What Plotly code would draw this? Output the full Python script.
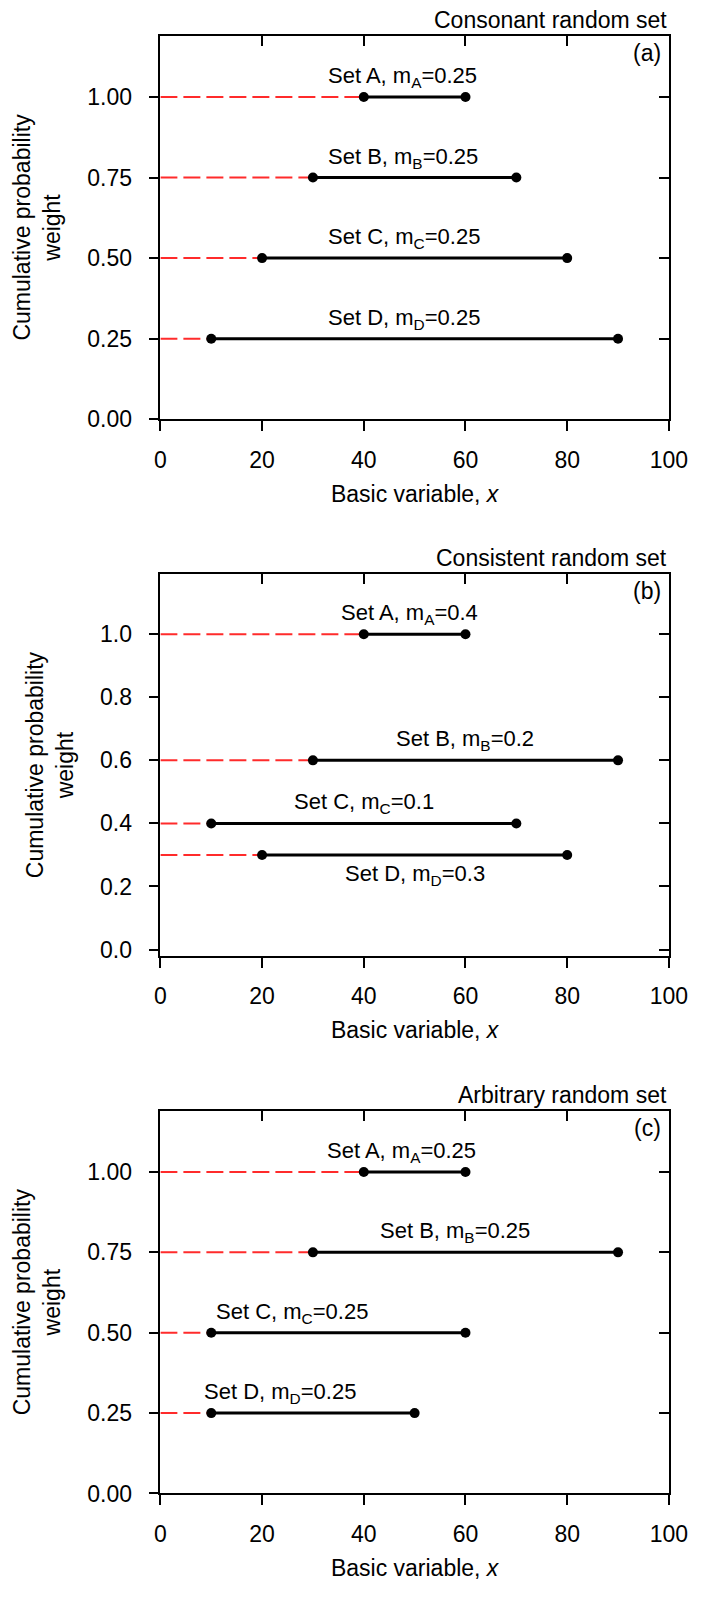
import plotly.graph_objects as go

# ---------------- data ----------------
set_names = ["A", "B", "C", "D"]

# panel (a) consonant
a_y = [1.00, 0.75, 0.50, 0.25]
a_lo = [40, 30, 20, 10]
a_hi = [60, 70, 80, 90]
a_m = ["0.25", "0.25", "0.25", "0.25"]

# panel (b) consistent
b_y = [1.0, 0.6, 0.4, 0.3]
b_lo = [40, 30, 10, 20]
b_hi = [60, 90, 70, 80]
b_m = ["0.4", "0.2", "0.1", "0.3"]

# panel (c) arbitrary
c_y = [1.00, 0.75, 0.50, 0.25]
c_lo = [40, 30, 10, 10]
c_hi = [60, 90, 60, 50]
c_m = ["0.25", "0.25", "0.25", "0.25"]

titles = ["Consonant random set", "Consistent random set", "Arbitrary random set"]
panel_tags = ["(a)", "(b)", "(c)"]
x_ticks = [0, 20, 40, 60, 80, 100]
y_ticks_all = [[0, 0.25, 0.5, 0.75, 1.0], [0, 0.2, 0.4, 0.6, 0.8, 1.0], [0, 0.25, 0.5, 0.75, 1.0]]
y_tick_fmt = [".2f", ".1f", ".2f"]
x_title = "Basic variable, <i>x</i>"
y_title = "Cumulative probability<br>weight"

# ---------------- styling / layout ----------------
W, H = 712, 1600
FONT = "Liberation Sans, Arial, sans-serif"
FS = 23        # tick labels, titles
FS_LAB = 22    # set labels
x_dom = [160 / W, 687 / W]
# (top, bottom) pixel positions of each panel box
boxes = [(36, 422.7), (579, 963.7), (1120, 1505.7)]
y_ranges = [[0, 1.19], [-0.02, 1.19], [0, 1.19]]
# label x offsets from segment mid (data units) and vertical shift (px)
lab_dx = [[-2.4, -2.3, -2, -2], [-1, 0, 0, 0], [-2.5, -2, -9.2, -6.5]]
lab_dy = [[20, 20, 20, 20], [20, 20, 20, -20], [20, 20, 20, 20]]

panels = [(a_y, a_lo, a_hi, a_m), (b_y, b_lo, b_hi, b_m), (c_y, c_lo, c_hi, c_m)]

fig = go.Figure()
layout = dict(
    width=W, height=H, margin=dict(l=0, r=0, t=0, b=0),
    paper_bgcolor="white", plot_bgcolor="white", showlegend=False,
    font=dict(family=FONT, size=FS, color="black"),
)
annotations = []

for i, (ys, lo, hi, ms) in enumerate(panels):
    n = i + 1
    xa, ya = f"x{n}", f"y{n}"
    top, bot = boxes[i]
    ydom = [1 - bot / H, 1 - top / H]
    # main axes
    layout[f"xaxis{n}"] = dict(
        domain=x_dom, anchor=ya, range=[0, 100], tickvals=x_ticks,
        ticks="outside", ticklen=10, tickwidth=1.5, tickcolor="black",
        showline=True, linewidth=1.5, linecolor="black", mirror=True,
        showgrid=False, zeroline=False, tickfont=dict(size=FS),
        ticklabelstandoff=9,
        title=dict(text=x_title, font=dict(size=FS), standoff=14),
    )
    layout[f"yaxis{n}"] = dict(
        domain=ydom, anchor=xa, range=y_ranges[i], tickvals=y_ticks_all[i],
        tickformat=y_tick_fmt[i],
        ticks="outside", ticklen=10, tickwidth=1.5, tickcolor="black",
        showline=True, linewidth=1.5, linecolor="black", mirror=True,
        showgrid=False, zeroline=False, tickfont=dict(size=FS),
        ticklabelstandoff=12,
        title=dict(text=y_title, font=dict(size=FS), standoff=20),
    )
    # overlay axes for inward ticks on top and right
    xo, yo = n + 3, n + 3
    layout[f"xaxis{xo}"] = dict(
        overlaying=xa, anchor=ya, side="top", range=[0, 100], tickvals=x_ticks,
        ticks="inside", ticklen=10, tickwidth=1.5, tickcolor="black",
        showticklabels=False, showline=False, showgrid=False, zeroline=False,
    )
    layout[f"yaxis{yo}"] = dict(
        overlaying=ya, anchor=xa, side="right", range=y_ranges[i], tickvals=y_ticks_all[i],
        ticks="inside", ticklen=10, tickwidth=1.5, tickcolor="black",
        showticklabels=False, showline=False, showgrid=False, zeroline=False,
    )
    fig.add_trace(go.Scatter(x=[None], y=[None], xaxis=f"x{xo}", yaxis=ya,
                             hoverinfo="skip", showlegend=False))
    fig.add_trace(go.Scatter(x=[None], y=[None], xaxis=xa, yaxis=f"y{yo}",
                             hoverinfo="skip", showlegend=False))

    for k in range(len(ys)):
        # red dashed lead line
        fig.add_trace(go.Scatter(
            x=[0, lo[k]], y=[ys[k], ys[k]], mode="lines", xaxis=xa, yaxis=ya,
            line=dict(color="#ff2b2b", width=2, dash="17px,6px"),
            hoverinfo="skip"))
        # black focal set
        fig.add_trace(go.Scatter(
            x=[lo[k], hi[k]], y=[ys[k], ys[k]], mode="lines+markers", xaxis=xa, yaxis=ya,
            line=dict(color="black", width=3),
            marker=dict(color="black", size=10, symbol="circle"),
            hoverinfo="skip"))
        s = set_names[k]
        annotations.append(dict(
            x=(lo[k] + hi[k]) / 2 + lab_dx[i][k], y=ys[k], xref=xa, yref=ya,
            text=f"Set {s}, m<sub>{s}</sub>={ms[k]}", showarrow=False,
            xanchor="center", yanchor="middle", yshift=lab_dy[i][k],
            font=dict(size=FS_LAB, color="black"),
        ))
    # panel title above the box, right aligned
    annotations.append(dict(
        x=x_dom[1], y=1 - (top - 16) / H, xref="paper", yref="paper",
        text=titles[i], showarrow=False, xanchor="right", yanchor="middle",
        font=dict(size=FS, color="black"),
    ))
    # panel tag inside top-right
    annotations.append(dict(
        x=x_dom[1] - 6 / W, y=1 - (top + 17) / H, xref="paper", yref="paper",
        text=panel_tags[i], showarrow=False, xanchor="right", yanchor="middle",
        font=dict(size=FS, color="black"),
    ))

layout["annotations"] = annotations
fig.update_layout(**layout)
fig.write_html("out.html")
